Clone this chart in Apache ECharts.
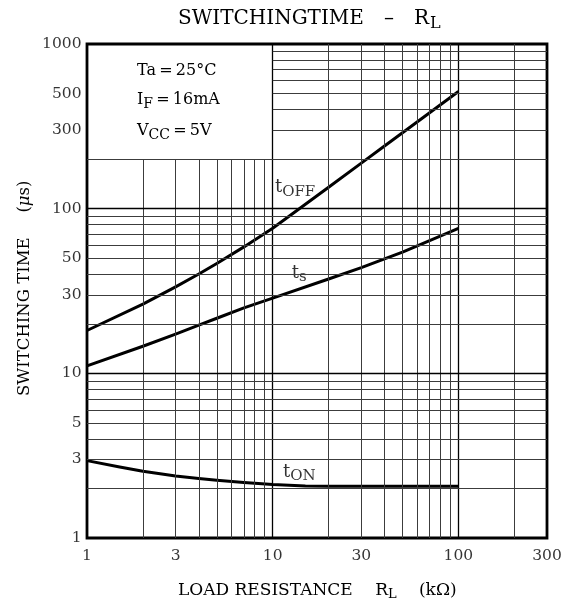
<!DOCTYPE html>
<html><head><meta charset="utf-8">
<script src="https://cdn.jsdelivr.net/npm/echarts@6/dist/echarts.min.js"></script>
<style>html,body{margin:0;padding:0;background:#fff}#c{width:571px;height:604px}</style>
</head><body><div id="c"></div>
<script>
// ---- data ----
const loadR = [1, 2, 3, 4, 5, 7, 10, 20, 30, 40, 50, 70, 100];           // kΩ
const tOff  = [18.2, 26.3, 33.5, 40.1, 46.5, 58.6, 76.1, 135, 189, 240, 289, 382, 515]; // µs
const tS    = [11.1, 14.6, 17.3, 19.6, 21.6, 25.0, 28.6, 37.4, 43.8, 49.5, 54.5, 64, 76];
const tOnR  = [1, 1.5, 2, 3, 4, 5, 7, 10, 15, 20, 30, 50, 70, 100];
const tOn   = [2.95, 2.70, 2.54, 2.38, 2.30, 2.24, 2.17, 2.11, 2.07, 2.06, 2.06, 2.06, 2.06, 2.06];

const xTickLabels = [1, 3, 10, 30, 100, 300];
const yTickLabels = [1, 3, 5, 10, 30, 50, 100, 300, 500, 1000];
const xGridVals = [2, 3, 4, 5, 6, 7, 8, 9, 10, 20, 30, 40, 50, 60, 70, 80, 90, 100, 200];
const yGridVals = [2, 3, 4, 5, 6, 7, 8, 9, 10, 20, 30, 40, 50, 60, 70, 80, 90, 100,
                   200, 300, 400, 500, 600, 700, 800, 900];
const majorVals = [10, 100];
// inset box region (no grid drawn inside): x < boxX, y > boxY
const boxX = 10, boxY = 200;
const X_MIN = 1, X_MAX = 300, Y_MIN = 1, Y_MAX = 1000;

const F = 'DejaVu Serif';
const minorStyle = { color: '#3c3c3c', width: 1, type: 'solid' };
const majorStyle = { color: '#000', width: 1.3, type: 'solid' };

const gridLines = [];
xGridVals.forEach(v => {
  const top = v < boxX ? boxY : Y_MAX;
  gridLines.push([{ coord: [v, Y_MIN], lineStyle: majorVals.includes(v) ? majorStyle : minorStyle }, { coord: [v, top] }]);
});
yGridVals.forEach(v => {
  const left = v > boxY ? boxX : X_MIN;
  gridLines.push([{ coord: [left, v], lineStyle: majorVals.includes(v) ? majorStyle : minorStyle }, { coord: [X_MAX, v] }]);
});

const curveLabels = [
  { name: 'tOFF', at: [13.2, 133], sub: 'OFF', pad: [7, 3, 8, 3] },
  { name: 'ts',   at: [13.9, 41.8], sub: 's',  pad: [12, 4, 8, 4] },
  { name: 'tON',  at: [13.9, 2.52], sub: 'ON', pad: [6, 10, 6, 10] }
];

const chart = echarts.init(document.getElementById('c'), null, { renderer: 'canvas' });
const richSub = {
  t: { fontFamily: F, fontSize: 18, color: '#000', lineHeight: 22 },
  s: { fontFamily: F, fontSize: 15, color: '#000', padding: [8, 0, 0, 0] }
};
const txt = (size, extra) => Object.assign({ fontFamily: F, fontSize: size, color: '#000' }, extra || {});

chart.setOption({
  animation: false,
  backgroundColor: '#fff',
  grid: { left: 87, top: 44, right: 24, bottom: 66, show: true, borderColor: '#000', borderWidth: 2.8, backgroundColor: 'transparent' },
  xAxis: { type: 'log', logBase: 10, min: X_MIN, max: X_MAX,
    axisLine: { show: false }, axisTick: { show: false }, axisLabel: { show: false }, splitLine: { show: false } },
  yAxis: { type: 'log', logBase: 10, min: Y_MIN, max: Y_MAX,
    axisLine: { show: false }, axisTick: { show: false }, axisLabel: { show: false }, splitLine: { show: false } },
  graphic: [
    { type: 'text', left: 178, top: 9, style: {
        text: '{a|SWITCHINGTIME\u2003–\u2003R}{s|L}',
        rich: { a: txt(20, { lineHeight: 26 }), s: txt(16, { padding: [9, 0, 0, 1] }) } } },
    { type: 'text', left: 137, top: 63, style: {
        text: '{a|Ta\u2009=\u200925°C}', rich: { a: txt(16) } } },
    { type: 'text', left: 137, top: 92, style: {
        text: '{a|I}{s|F}{a|\u2009=\u200916mA}',
        rich: { a: txt(16, { lineHeight: 20 }), s: txt(14, { padding: [8, 0, 0, 0] }) } } },
    { type: 'text', left: 137, top: 123, style: {
        text: '{a|V}{s|CC}{a|\u2009=\u20095V}',
        rich: { a: txt(16, { lineHeight: 20 }), s: txt(14, { padding: [8, 0, 0, 0] }) } } },
    { type: 'text', left: 178, top: 582, style: {
        text: '{a|LOAD RESISTANCE\u2003 R}{s|L}{a|\u2003 (kΩ)}',
        rich: { a: txt(17, { lineHeight: 20 }), s: txt(13, { padding: [8, 0, 0, 0] }) } } },
    { type: 'text', x: 16, y: 396, rotation: Math.PI / 2, style: {
        text: '{a|SWITCHING TIME\u2003\u2002(}{i|μ}{a|s)}',
        rich: { a: txt(16.5), i: txt(16.5, { fontStyle: 'italic' }) } } }
  ],
  series: [
    { type: 'line', name: 'grid', data: [], silent: true, z: 1,
      markLine: { silent: true, symbol: ['none', 'none'], label: { show: false }, data: gridLines } },
    { type: 'scatter', name: 'curveLabels', z: 2, silent: true, clip: false, symbolSize: 1,
      itemStyle: { color: 'rgba(0,0,0,0)' },
      data: curveLabels.map(c => ({ value: c.at, name: c.name,
        label: { show: true, position: 'inside', backgroundColor: '#fff', padding: c.pad,
          formatter: '{t|t}{s|' + c.sub + '}', rich: richSub } })) },
    { type: 'line', name: 'tOFF', data: loadR.map((x, i) => [x, tOff[i]]), smooth: false,
      showSymbol: false, z: 3, lineStyle: { color: '#000', width: 3, join: 'round' } },
    { type: 'line', name: 'ts', data: loadR.map((x, i) => [x, tS[i]]), smooth: false,
      showSymbol: false, z: 3, lineStyle: { color: '#000', width: 3, join: 'round' } },
    { type: 'line', name: 'tON', data: tOnR.map((x, i) => [x, tOn[i]]), smooth: false,
      showSymbol: false, z: 3, lineStyle: { color: '#000', width: 3, join: 'round' } },
    { type: 'scatter', name: 'xTicks', silent: true, clip: false, symbolSize: 1, itemStyle: { color: 'rgba(0,0,0,0)' },
      data: xTickLabels.map(v => [v, Y_MIN]),
      label: { show: true, position: 'bottom', distance: 9, fontFamily: F, fontSize: 15.5, color: '#000',
        formatter: p => String(p.value[0]) } },
    { type: 'scatter', name: 'yTicks', silent: true, clip: false, symbolSize: 1, itemStyle: { color: 'rgba(0,0,0,0)' },
      data: yTickLabels.map(v => [X_MIN, v]),
      label: { show: true, position: 'left', distance: 5, fontFamily: F, fontSize: 15.5, color: '#000',
        formatter: p => String(p.value[1]) } }
  ]
});
</script></body></html>
